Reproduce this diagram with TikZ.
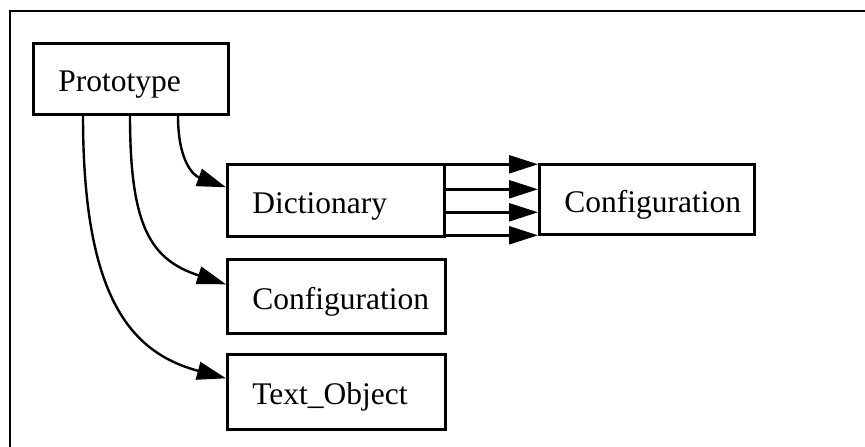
\documentclass[tikz,border=0pt]{standalone}
\usepackage{fontspec}
\setmainfont{Liberation Serif}
\usetikzlibrary{arrows.meta}
\tikzset{
  cls/.style={draw, line width=2.6pt, anchor=north west, align=left,
    inner xsep=25pt, inner ysep=0pt, text height=26pt, text depth=0pt,
    font=\fontsize{31.5}{36}\selectfont},
  link/.style={line width=2.4pt, -{Triangle[length=29pt,width=18pt]}},
  frameline/.style={line width=2.8pt}
}
\begin{document}
\begin{tikzpicture}[x=1pt,y=-1pt]
\useasboundingbox (0,0) rectangle (865,447);
% outer frame (top and left edges)
\draw[frameline] (10,447) -- (10,11) -- (865,11);

% classes
\node[cls, text width=145pt, minimum height=71pt] (proto) at (32,42) {Prototype};
\node[cls, text width=167pt, minimum height=72pt] (dict) at (226,163) {Dictionary};
\node[cls, text width=165pt, minimum height=70pt] (cfgR) at (538,163) {Configuration};
\node[cls, text width=168pt, minimum height=74pt] (cfg) at (226,258) {Configuration};
\node[cls, text width=168pt, minimum height=75pt] (txt) at (226,353) {Text\_Object};

% links from Prototype
\draw[link] ([xshift=146pt]proto.south west) .. controls +(0,45) and +(-33,-12) .. ([yshift=13pt]dict.west);
\draw[link] ([xshift=98pt]proto.south west) .. controls +(0,110) and +(-76,-24.7) .. ([yshift=12pt]cfg.west);
\draw[link] ([xshift=51pt]proto.south west) .. controls +(0,180) and +(-96.6,-25.9) .. ([yshift=13.5pt]txt.west);

% links from Dictionary to Configuration
\foreach \dy in {36,11,-12,-35}
  \draw[link] ([yshift=\dy pt]dict.east) -- ([yshift=\dy pt]dict.east -| cfgR.west);
\end{tikzpicture}
\end{document}
